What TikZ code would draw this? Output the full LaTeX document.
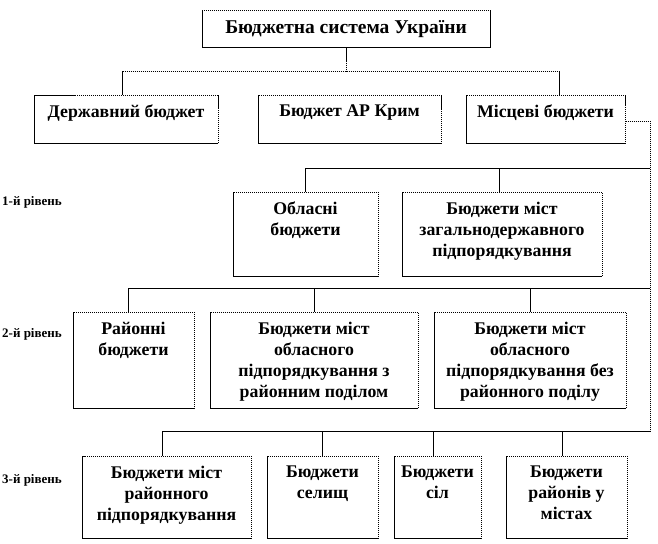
\documentclass[tikz,border=0pt]{standalone}
\usepackage{fontspec}
\setmainfont{Liberation Serif}
\usetikzlibrary{fit}
\tikzset{
  boxst/.style={draw=black, line width=1pt, dash pattern=on 1.5pt off 0.5pt, fill=white, inner sep=0pt, rectangle},
  txt/.style={font=\fontsize{17.8}{21.3}\selectfont\bfseries, align=center, inner sep=0pt},
  ttl/.style={font=\fontsize{19.5}{22}\selectfont\bfseries, align=center, inner sep=0pt},
  lvl/.style={font=\fontsize{13}{15}\selectfont\bfseries, inner sep=0pt, anchor=west},
  conn/.style={draw=black, line width=1pt, dash pattern=on 1.5pt off 0.5pt}
}
\newcommand\bx[7][txt]{%
  \node[boxst, fit={(#3,#4)(#5,#6)}] (#2) {};
  \node[#1, anchor=north] (#2t) at ([yshift=-10pt]#2.north) {#7};
}
\begin{document}
\begin{tikzpicture}[x=1pt,y=-1pt]
\useasboundingbox (0,0) rectangle (658,543);
% bus coordinates
\coordinate (bus0) at (0,71);
\coordinate (bus1) at (0,168);
\coordinate (bus2) at (0,288);
\coordinate (bus3) at (0,431);
\coordinate (rail) at (650,0);
% boxes
\bx[ttl]{st}{202}{11}{490}{48}{Бюджетна система України}
\bx{d}{34}{95}{218}{143}{Державний бюджет}
\bx{ar}{258}{95}{441}{143}{Бюджет АР Крим}
\bx{ml}{466}{95}{625}{143}{Місцеві бюджети}
\bx{o1}{233}{192}{378}{276}{Обласні\\бюджети}
\bx{o2}{402}{192}{602}{276}{Бюджети міст\\загальнодержавного\\підпорядкування}
\bx{r1}{73}{312}{194}{408}{Районні\\бюджети}
\bx{r2}{210}{312}{418}{408}{Бюджети міст\\обласного\\підпорядкування з\\районним поділом}
\bx{r3}{434}{312}{626}{408}{Бюджети міст\\обласного\\підпорядкування без\\районного поділу}
\bx{b1}{82}{456}{251}{538}{Бюджети міст\\районного\\підпорядкування}
\bx{b2}{267}{456}{378}{538}{Бюджети\\селищ}
\bx{b3}{394}{456}{481}{538}{Бюджети\\сіл}
\bx{b4}{506}{456}{627}{538}{Бюджети\\районів у\\містах}
% level labels
\node[lvl] (l1) at (2,202) {1-й рівень};
\node[lvl] (l2) at (2,334) {2-й рівень};
\node[lvl] (l3) at (2,480) {3-й рівень};
% connectors
\draw[conn] (st.south) -- (st.south |- bus0);
\draw[conn] ([xshift=-4pt]d.north) |- ([xshift=14pt]ml.north |- bus0) -- ([xshift=14pt]ml.north);
\coordinate (mlr) at ([yshift=-2pt]ml.east);
\draw[conn] (mlr) -- (mlr -| rail) -- (rail |- bus3);
\draw[conn] (o1.north) |- (rail |- bus1);
\draw[conn] ([xshift=-3pt]o2.north) -- ([xshift=-3pt]o2.north |- bus1);
\draw[conn] ([xshift=-5pt]r1.north) |- (rail |- bus2);
\draw[conn] (r2.north) -- (r2.north |- bus2);
\draw[conn] (r3.north) -- (r3.north |- bus2);
\draw[conn] ([xshift=-4pt]b1.north) |- (rail |- bus3);
\draw[conn] (b2.north) -- (b2.north |- bus3);
\draw[conn] ([xshift=-4pt]b3.north) -- ([xshift=-4pt]b3.north |- bus3);
\draw[conn] ([xshift=-4pt]b4.north) -- ([xshift=-4pt]b4.north |- bus3);
\end{tikzpicture}
\end{document}
